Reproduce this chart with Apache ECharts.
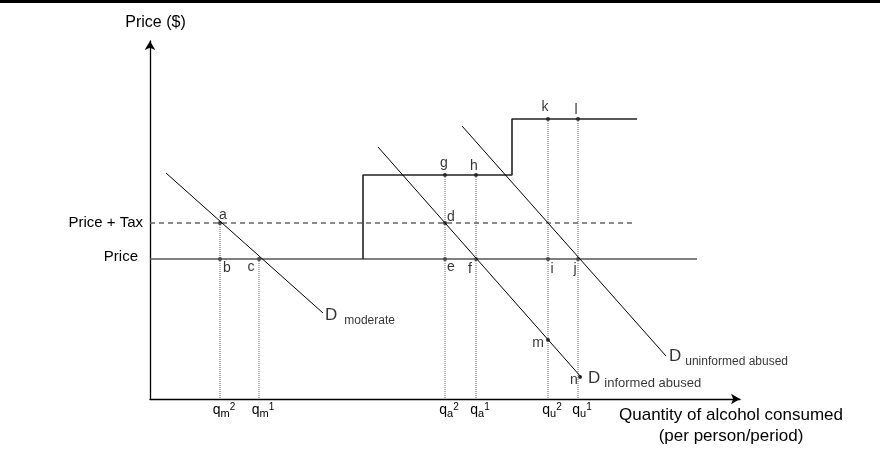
<!DOCTYPE html>
<html>
<head>
<meta charset="utf-8">
<script src="https://cdn.jsdelivr.net/npm/echarts@6/dist/echarts.min.js"></script>
<style>
  html, body { margin: 0; padding: 0; background: #fff; }
  #main { width: 880px; height: 451px; }
</style>
</head>
<body>
<div id="main"></div>
<script>
// diagram units: x = quantity, y = price
var priceLine = [[0, 140], [547, 140]];
var taxLine = [[0, 176], [483, 176]];
var externalityLine = [[213, 140], [213, 224], [362, 224], [362, 280], [487, 280]];
var dModerate = [[16, 226], [173, 86]];
var dInformed = [[228, 252], [431, 22]];
var dUninformed = [[312, 273], [516, 43]];

var pointNames = ['a', 'b', 'c', 'd', 'e', 'f', 'g', 'h', 'i', 'j', 'k', 'l', 'm', 'n'];
var pointValues = [[70, 176], [70, 140], [109, 140], [295, 176], [295, 140], [326, 140],
  [295, 224], [326, 224], [398, 140], [428, 140], [398, 280], [428, 280], [398, 59], [430, 22]];

var qTicks = [70, 109, 295, 326, 398, 428];
var qSub = ['m', 'm', 'a', 'a', 'u', 'u'];
var qSup = ['2', '1', '2', '1', '2', '1'];
var dropTops = [176, 140, 224, 224, 280, 280];

var yTicks = [140, 176];
var yTickLabels = ['Price', 'Price + Tax'];

var curveNames = ['moderate', 'informed abused', 'uninformed abused'];

// where each letter sits around its dot (px)
var letterOffset = {
  a: [3, -8], b: [7, 9], c: [-8, 8], d: [6, -6], e: [6, 8], f: [-6, 10],
  g: [-1, -12], h: [-2, -9], i: [4, 10], j: [-3, 10], k: [-3, -12], l: [-2, -9],
  m: [-10, 3], n: [-6, 3]
};

var FONT = '"Liberation Sans", Arial, sans-serif';

function plain(data, style) {
  return { type: 'line', data: data, symbol: 'none', silent: true, lineStyle: style };
}

var series = [];
// dotted drops to the quantity axis
qTicks.forEach(function (x, i) {
  series.push(plain([[x, dropTops[i]], [x, 0]], { color: '#666', width: 1, type: [1, 1] }));
});
series.push(plain(priceLine, { color: '#555', width: 1.6 }));
series.push(plain(taxLine, { color: '#666', width: 1.3, type: [5, 4] }));
series.push(plain(externalityLine, { color: '#222', width: 1.6 }));
series.push(plain(dModerate, { color: '#000', width: 1 }));
series.push(plain(dInformed, { color: '#000', width: 1 }));
series.push(plain(dUninformed, { color: '#000', width: 1 }));

series.push({
  type: 'scatter',
  symbolSize: 4,
  silent: true,
  itemStyle: { color: '#000' },
  data: pointValues.map(function (p, i) {
    return {
      value: p,
      label: {
        show: true, position: 'inside', formatter: pointNames[i],
        offset: letterOffset[pointNames[i]],
        color: '#000', fontSize: 14, fontFamily: FONT
      }
    };
  })
});

// curve names at the lower end of each demand line
var dRich = {
  D: { fontSize: 17, lineHeight: 20, verticalAlign: 'top', fontFamily: FONT, color: '#000' },
  s0: { fontSize: 12, lineHeight: 14, verticalAlign: 'bottom', padding: [11, 0, 0, 7], fontFamily: FONT, color: '#000' },
  s1: { fontSize: 13, lineHeight: 15, verticalAlign: 'bottom', padding: [8, 0, 0, 4], fontFamily: FONT, color: '#000' },
  s2: { fontSize: 12, lineHeight: 14, verticalAlign: 'bottom', padding: [8, 0, 0, 4], fontFamily: FONT, color: '#000' }
};
var dOffsets = [[2, 4], [7, 3], [3, 2]];
series.push({
  type: 'scatter',
  symbolSize: 1,
  silent: true,
  itemStyle: { color: 'rgba(0,0,0,0)' },
  data: [dModerate[1], dInformed[1], dUninformed[1]].map(function (p, i) {
    return {
      value: p,
      label: {
        show: true, position: 'inside', align: 'left', verticalAlign: 'middle',
        offset: dOffsets[i], rich: dRich,
        formatter: '{D|D}{s' + i + '|' + curveNames[i] + '}'
      }
    };
  })
});

var chart = echarts.init(document.getElementById('main'));
chart.setOption({
  animation: false,
  backgroundColor: '#fff',
  textStyle: { fontFamily: FONT },
  graphic: [{
    type: 'rect', left: 0, top: 0, shape: { width: 880, height: 3 }, style: { fill: '#000' }
  }],
  grid: { left: 150, right: 140, top: 41, bottom: 52 },
  xAxis: {
    type: 'value', min: 0, max: 590,
    splitLine: { show: false },
    axisTick: { show: false },
    axisLine: { symbol: ['none', 'arrow'], symbolSize: [8, 9], lineStyle: { color: '#000', width: 1.3 } },
    axisLabel: {
      customValues: qTicks, margin: 3,
      formatter: function (v) {
        var i = qTicks.indexOf(v);
        return '{q|q}{sb|' + qSub[i] + '}{sp|' + qSup[i] + '}';
      },
      rich: {
        q: { fontSize: 14, lineHeight: 17, padding: [0, 0, 0, 8], color: '#000', fontFamily: FONT },
        sb: { fontSize: 11, lineHeight: 12, verticalAlign: 'bottom', color: '#000', fontFamily: FONT },
        sp: { fontSize: 10, lineHeight: 11, verticalAlign: 'top', color: '#000', fontFamily: FONT }
      }
    },
    name: 'Quantity of alcohol consumed\n(per person/period)',
    nameLocation: 'end', nameGap: -9,
    nameTextStyle: { fontSize: 17, lineHeight: 21, align: 'center', verticalAlign: 'top', padding: [6, 0, 0, 0], color: '#000', fontFamily: FONT }
  },
  yAxis: {
    type: 'value', min: 0, max: 358,
    splitLine: { show: false },
    axisTick: { show: false },
    axisLine: { symbol: ['none', 'arrow'], symbolSize: [8, 9], lineStyle: { color: '#000', width: 1.3 } },
    axisLabel: {
      customValues: yTicks, margin: 7,
      formatter: function (v) {
        var i = yTicks.indexOf(v);
        return i === 0 ? '{p|' + yTickLabels[i] + '}' : '{t|' + yTickLabels[i] + '}';
      },
      rich: {
        p: { fontSize: 15, padding: [0, 5, 4, 0], color: '#000', fontFamily: FONT },
        t: { fontSize: 15, padding: [0, 0, 0, 0], color: '#000', fontFamily: FONT }
      }
    },
    name: 'Price ($)', nameLocation: 'end', nameGap: 10,
    nameTextStyle: { fontSize: 16, padding: [0, 0, 0, 11], color: '#000', fontFamily: FONT }
  },
  series: series
});
</script>
</body>
</html>
